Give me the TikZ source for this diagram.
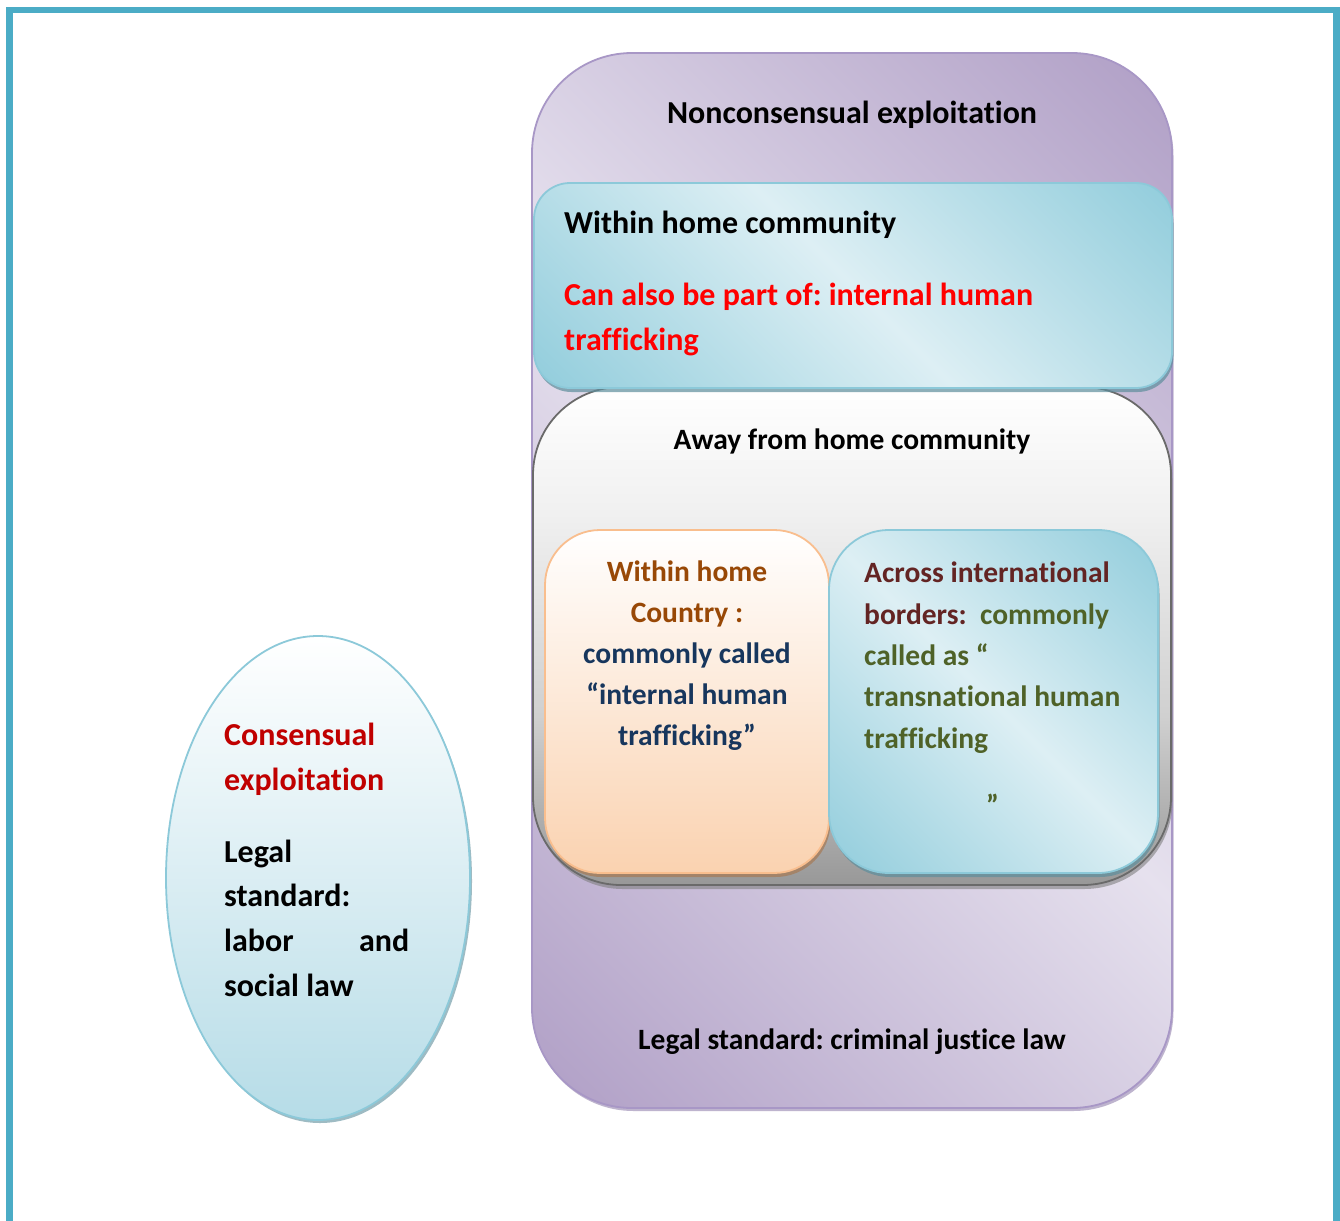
\documentclass[tikz,border=0pt]{standalone}
\usepackage{fontspec}
\setmainfont[Ligatures=NoCommon]{Carlito}
\usetikzlibrary{shadows}
\definecolor{frameC}{HTML}{4BACC6}
\definecolor{purL}{HTML}{E6E1EE}
\definecolor{purD}{HTML}{B09FC6}
\definecolor{purB}{HTML}{A897C6}
\definecolor{purS}{HTML}{9483AE}
\definecolor{bluL}{HTML}{DDEFF4}
\definecolor{bluD}{HTML}{92CDDC}
\definecolor{bluB}{HTML}{8CC9D9}
\definecolor{bluS}{HTML}{5E8E9C}
\definecolor{pchL}{HTML}{FFFFFF}
\definecolor{pchD}{HTML}{FAD2B0}
\definecolor{pchB}{HTML}{F9BE8E}
\definecolor{pchS}{HTML}{A77A55}
\definecolor{awyB}{HTML}{6A6A6A}
\definecolor{awyD}{HTML}{989898}
\definecolor{awyM}{HTML}{D0D0D0}
\definecolor{awyL}{HTML}{F1F1F1}
\definecolor{ellD}{HTML}{B6DCE7}
\definecolor{tBrown}{HTML}{984806}
\definecolor{tNavy}{HTML}{17365D}
\definecolor{tDkRed}{HTML}{632423}
\definecolor{tOlive}{HTML}{4F6228}
\definecolor{tRed}{HTML}{FF0000}
\definecolor{tCons}{HTML}{C00000}
\pgfdeclarehorizontalshading{diagP}{100bp}{color(0bp)=(purD); color(15bp)=(purD); color(50bp)=(purL); color(85bp)=(purD); color(100bp)=(purD)}
\pgfdeclarehorizontalshading{diagB}{100bp}{color(0bp)=(bluD); color(15bp)=(bluD); color(50bp)=(bluL); color(85bp)=(bluD); color(100bp)=(bluD)}
\pgfdeclareverticalshading{awayS}{100bp}{color(0bp)=(awyD); color(25bp)=(awyD); color(42bp)=(awyM); color(63bp)=(awyL); color(75bp)=(white); color(100bp)=(white)}
\frenchspacing
\begin{document}
\begin{tikzpicture}[x=1pt,y=-1pt,
  box/.style={draw, line width=1.8pt, inner sep=0pt},
  txt/.style={inner sep=0pt, anchor=base west, font=\bfseries\fontsize{29.5}{34}\selectfont},
  big/.style={font=\bfseries\fontsize{32}{38}\selectfont},
  ctxt/.style={txt, anchor=base},
]
\useasboundingbox (0,0) rectangle (1340,1220);
\fill[white] (0,0) rectangle (1340,1220);
\draw[frameC, line width=6.7pt] (9.5,1225) -- (9.5,10) -- (1336.7,10) -- (1336.7,1225);

% outer purple container
\node[box, draw=purB, rounded corners=100pt, minimum width=640pt, minimum height=1055pt,
      shading=diagP, shading angle=45,
      drop shadow={shadow xshift=1.5pt, shadow yshift=-3pt, fill=purS, opacity=0.6}] (outer) at (852,580.5) {};
\node[ctxt, big] (t1) at (852,124) {Nonconsensual exploitation};

% away from home community
\node[box, draw=awyB, rounded corners=88pt, minimum width=638pt, minimum height=498pt,
      shading=awayS,
      drop shadow={shadow xshift=1.5pt, shadow yshift=-4pt, fill=gray, opacity=0.6}] (away) at (852,636) {};
\node[ctxt] (t4) at (852,449) {Away from home community};

% within home community
\node[box, draw=bluB, rounded corners=36pt, minimum width=638pt, minimum height=205pt,
      shading=diagB, shading angle=45,
      drop shadow={shadow xshift=1.5pt, shadow yshift=-4pt, fill=bluS, opacity=0.7}] (within) at (853,285.5) {};
\node[txt, big] (t2) at (564,233) {Within home community};
\node[txt, big, text=tRed] (t3a) at (564,305) {Can also be part of: internal human};
\node[txt, big, text=tRed] (t3b) at (564,350) {trafficking};

% within home country (peach)
\node[box, draw=pchB, rounded corners=55pt, minimum width=284pt, minimum height=343pt,
      top color=pchL, bottom color=pchD,
      drop shadow={shadow xshift=1.5pt, shadow yshift=-4pt, fill=pchS, opacity=0.7}] (country) at (687,701.5) {};
\node[ctxt, text=tBrown] (p1) at (687,581) {Within home};
\node[ctxt, text=tBrown] (p2) at (687,622) {Country :};
\node[ctxt, text=tNavy] (p3) at (687,663) {commonly called};
\node[ctxt, text=tNavy] (p4) at (687,704) {“internal human};
\node[ctxt, text=tNavy] (p5) at (687,745) {trafficking”};

% across international borders (blue)
\node[box, draw=bluB, rounded corners=60pt, minimum width=329pt, minimum height=343pt,
      shading=diagB, shading angle=45,
      drop shadow={shadow xshift=1.5pt, shadow yshift=-4pt, fill=bluS, opacity=0.7}] (across) at (993.5,701.5) {};
\node[txt, text=tDkRed] (a1) at (864,582) {Across international};
\node[txt] (a2) at (864,624) {\textcolor{tDkRed}{borders:}\textcolor{tOlive}{\ \ commonly}};
\node[txt, text=tOlive] (a3) at (864,665) {called as “};
\node[txt, text=tOlive] (a4) at (864,706) {transnational human};
\node[txt, text=tOlive] (a5) at (864,748) {trafficking};
\node[txt, text=tOlive] (a6) at (986,815) {”};

\node[ctxt] (t5) at (852,1049) {Legal standard: criminal justice law};

% consensual ellipse
\path[draw=bluB, line width=1.8pt, top color=white, bottom color=ellD,
      drop shadow={shadow xshift=2pt, shadow yshift=-3pt, fill=bluS, opacity=0.6}]
      (318,878) ellipse [x radius=152pt, y radius=242pt];
\node[txt, big, text=tCons] (e1) at (224,745) {Consensual};
\node[txt, big, text=tCons] (e2) at (224,790) {exploitation};
\node[txt, big] (e3) at (224,862) {Legal};
\node[txt, big] (e4) at (224,906) {standard:};
\node[txt, big] (e5) at (224,951) {\hbox to 185pt{labor\hfill and}};
\node[txt, big] (e6) at (224,996) {social law};
\end{tikzpicture}
\end{document}
